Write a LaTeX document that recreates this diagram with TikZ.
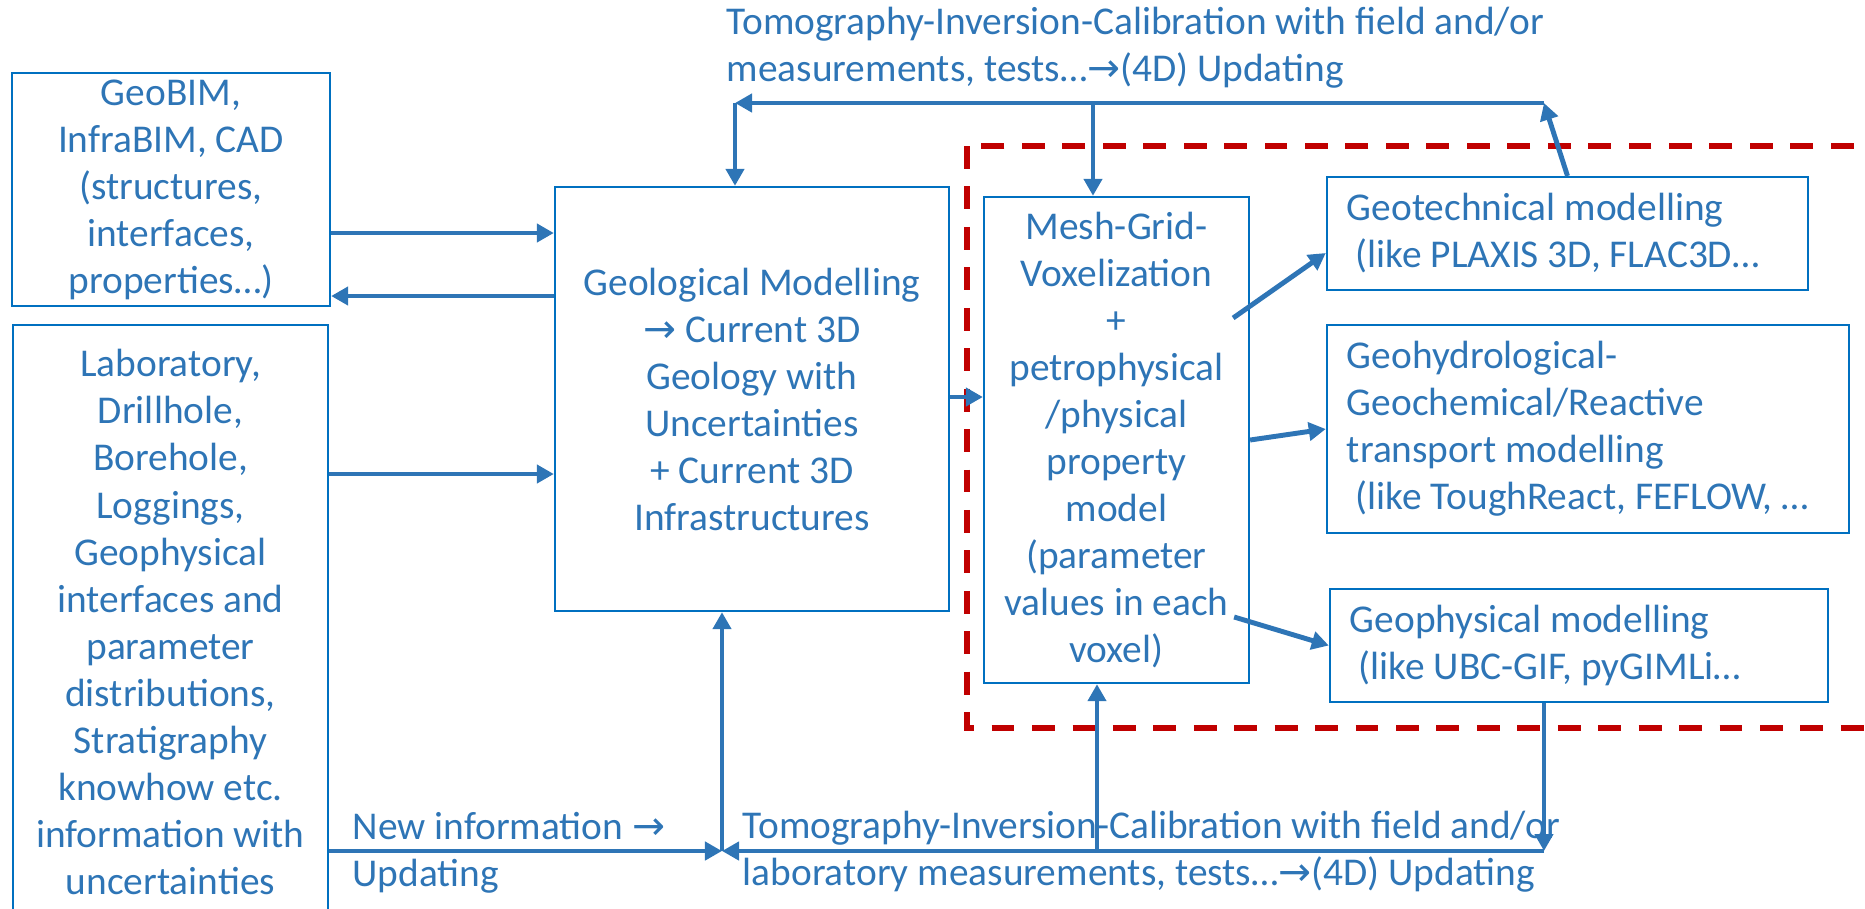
\documentclass[tikz,border=0pt]{standalone}
\usepackage{fontspec}
\setmainfont{Carlito}
\newfontfamily\arrowfont{DejaVu Sans}
\usepackage{xcolor}
\usepackage{tikz}
\usetikzlibrary{arrows.meta, calc}

\definecolor{lineblue}{HTML}{2E75B6}
\definecolor{boxblue}{HTML}{0070C0}
\definecolor{dashred}{HTML}{C00000}
\newcommand{\rarr}{{\arrowfont →}}
\frenchspacing

\begin{document}
\begin{tikzpicture}[x=0.01cm, y=-0.01cm,
    txt/.style={text=lineblue, font=\fontsize{11.2}{13.37}\selectfont, inner sep=0pt},
    box/.style={txt, draw=boxblue, line width=0.6pt, align=center},
    rbox/.style={txt, draw=boxblue, line width=0.6pt, align=flush left, inner xsep=0.2cm},
    arr/.style={draw=lineblue, line width=1.4pt, -{Triangle[length=1.7mm, width=1.8mm]}},
    frame/.style={draw=dashred, line width=1.5pt, dash pattern=on 6.5pt off 5pt}]
    \useasboundingbox (0,0) rectangle (1865,908);

    % dashed frame round the numerical models
    \draw[frame] (967,146) rectangle (1900,728);

    % input data
    \node[box, minimum width=3.18cm, minimum height=2.33cm] (geobim) at (171,189.5)
        {GeoBIM,\\InfraBIM, CAD\\(structures,\\interfaces,\\properties…)};
    \node[box, minimum width=3.15cm, minimum height=5.94cm] (lab) at (170.5,622)
        {Laboratory,\\Drillhole,\\Borehole,\\Loggings,\\Geophysical\\interfaces and\\parameter\\distributions,\\Stratigraphy\\knowhow etc.\\information with\\uncertainties};

    % geological model and voxel model
    \node[box, minimum width=3.94cm, minimum height=4.24cm] (geomod) at (752,399)
        {Geological Modelling\\\rarr{} Current 3D\\Geology with\\Uncertainties\\+ Current 3D\\Infrastructures};
    \node[box, minimum width=2.65cm, minimum height=4.86cm] (mesh) at (1116.5,440)
        {Mesh-Grid-\\Voxelization\\+\\petrophysical\\/physical\\property\\model\\(parameter\\values in each\\voxel)};

    % numerical models
    \node[rbox, text width=4.41cm, minimum height=1.13cm] (geotech) at (1567.5,233.5)
        {Geotechnical modelling\\\hspace*{0.226em}(like PLAXIS 3D, FLAC3D…};
    \node[rbox, text width=4.82cm, minimum height=2.08cm] (geohyd) at (1588,429)
        {Geohydrological-\\Geochemical/Reactive\\transport modelling\\\hspace*{0.226em}(like ToughReact, FEFLOW, …};
    \node[rbox, text width=4.58cm, minimum height=1.13cm] (geophys) at (1579,645.5)
        {Geophysical modelling\\\hspace*{0.226em}(like UBC-GIF, pyGIMLi…};

    % labels of the feedback loops
    \node[txt, align=left, anchor=north west] (toptxt) at (726,6)
        {Tomography-Inversion-Calibration with field and/or\\measurements, tests…\rarr(4D) Updating};
    \node[txt, align=left, anchor=north west] (newinfo) at (352,812)
        {New information \rarr\\Updating};
    \node[txt, align=left, anchor=north west] (bottxt) at (742,810)
        {Tomography-Inversion-Calibration with field and/or\\laboratory measurements, tests…\rarr(4D) Updating};

    \coordinate (tl) at (735,103);
    \coordinate (tm) at (1093,103);
    \coordinate (tr) at (1544,103);
    \coordinate (bl) at (722,851);
    \coordinate (bm) at (1097,851);
    \coordinate (br) at (1544,851);
    \coordinate (ra) at (0,233);
    \coordinate (rb) at (0,296);
    \coordinate (rc) at (0,474);
    \coordinate (rd) at (0,397);

    % data flow
    \draw[arr] (geobim.east |- ra) -- (geomod.west |- ra);
    \draw[arr] (geomod.west |- rb) -- (geobim.east |- rb);
    \draw[arr] (lab.east |- rc) -- (geomod.west |- rc);
    \draw[arr] (geomod.east |- rd) -- (mesh.west |- rd);
    \draw[arr] ($(mesh.east)+(-17,-122)$) -- ($(geotech.west)+(0,19.5)$);
    \draw[arr] (mesh.east) -- (geohyd.west);
    \draw[arr] ($(mesh.east)+(-16,177)$) -- (geophys.west);

    % top loop
    \draw[arr] (geotech.north) -- (tr);
    \draw[arr] (tr) -- (tl);
    \draw[arr] (tl) -- (tl |- geomod.north);
    \draw[arr] (tm) -- (tm |- mesh.north);

    % bottom loop
    \draw[arr] (br |- geophys.south) -- (br);
    \draw[arr] (br) -- (bl);
    \draw[arr] (lab.east |- bl) -- (bl);
    \draw[arr] (bl) -- (bl |- geomod.south);
    \draw[arr] (bm) -- (bm |- mesh.south);
\end{tikzpicture}
\end{document}
